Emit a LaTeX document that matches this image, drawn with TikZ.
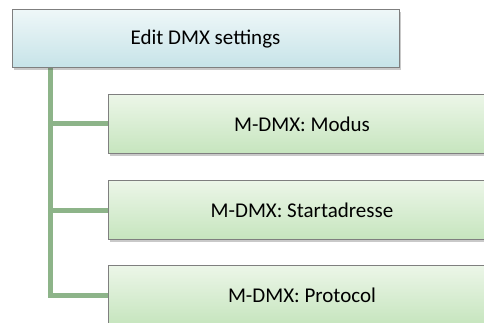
\documentclass[tikz,border=0pt]{standalone}
\usepackage{fontspec}
\setmainfont{Carlito}
\usetikzlibrary{calc, shadows, backgrounds}

\definecolor{boxborder}{RGB}{127,127,127}
\definecolor{headtop}{RGB}{238,247,248}
\definecolor{headbottom}{RGB}{198,227,232}
\definecolor{itemtop}{RGB}{236,246,232}
\definecolor{itembottom}{RGB}{198,229,190}
\definecolor{connline}{RGB}{141,180,137}

\begin{document}
\begin{tikzpicture}[x = 1pt, y = -1pt,
		menubox/.style = {draw = boxborder, line width = 1pt, inner sep = 0pt, font = \fontsize{21}{25}\selectfont,
			drop shadow = {shadow xshift = 1.5pt, shadow yshift = -2.5pt, opacity = .3, fill = black!70}},
		headbox/.style = {menubox, top color = headtop, bottom color = headbottom, minimum width = 387pt, minimum height = 58pt},
		itembox/.style = {menubox, top color = itemtop, bottom color = itembottom, minimum width = 388pt, minimum height = 59pt},
		conn/.style = {draw = connline, line width = 5pt}]
	\pgfmathsetmacro{\trunkx}{39}
	\useasboundingbox (0, 0) rectangle (484, 323);
	\node [headbox] (head) at (205.5, 39) {Edit DMX settings};
	\coordinate (trunk) at ([xshift = \trunkx pt]head.south west);
	\foreach \name/\y/\label in {modus/124/Modus, start/210/Startadresse, proto/295/Protocol}
		\node [itembox] (\name) at (302, \y) {M-DMX: \label};
	\begin{scope}[on background layer]
		\foreach \name in {modus, start, proto}
			\draw [conn] (trunk) |- (\name.west);
	\end{scope}
\end{tikzpicture}
\end{document}
